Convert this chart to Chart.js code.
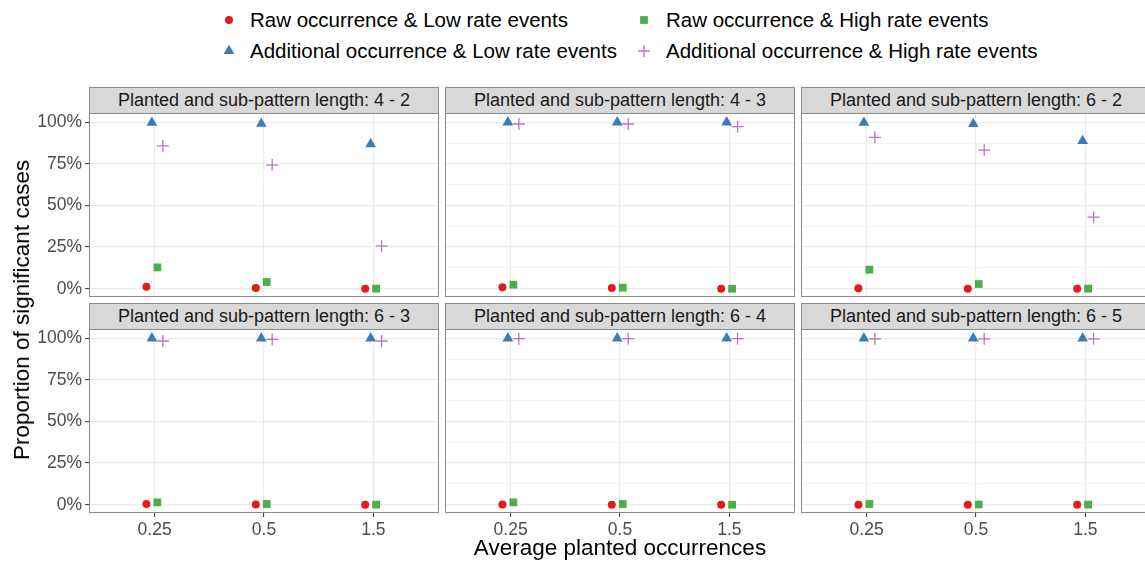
<!DOCTYPE html>
<html>
<head>
<meta charset="utf-8">
<script src="https://cdn.jsdelivr.net/npm/chart.js@4.4.0/dist/chart.umd.min.js"></script>
<style>
    body { margin: 0; background: #fff; font-family: "Liberation Sans", Arial, sans-serif; }
    #page { position: relative; width: 1145px; height: 561px; overflow: hidden; background: #fff; }
    .strip {
        position: absolute; box-sizing: border-box; width: 350px; height: 27px;
        background: #d9d9d9; border: 1px solid #8a8a8a; color: #1a1a1a;
        font-size: 18px; line-height: 25px; text-align: center; white-space: nowrap;
    }
    canvas.panel { position: absolute; }
    .legend-key { position: absolute; width: 20px; height: 20px; }
    .legend-text { position: absolute; font-size: 20.5px; line-height: 24px; color: #000; white-space: nowrap; }
    .axis-title { position: absolute; font-size: 22.5px; color: #000; white-space: nowrap; }
</style>
</head>
<body>
<div id="page"></div>
<script>
// --- Data ---
const panelTitles = [
    'Planted and sub-pattern length: 4 - 2',
    'Planted and sub-pattern length: 4 - 3',
    'Planted and sub-pattern length: 6 - 2',
    'Planted and sub-pattern length: 6 - 3',
    'Planted and sub-pattern length: 6 - 4',
    'Planted and sub-pattern length: 6 - 5'
];
const xLabels = ['0.25', '0.5', '1.5'];
const yTickValues = [0, 0.125, 0.25, 0.375, 0.5, 0.625, 0.75, 0.875, 1];
const seriesNames = [
    'Raw occurrence & Low rate events',
    'Additional occurrence & Low rate events',
    'Raw occurrence & High rate events',
    'Additional occurrence & High rate events'
];

// one row per panel, one value per x category
const rawLow = [
    [0.012, 0.004, 0.000],
    [0.008, 0.004, 0.000],
    [0.002, 0.000, 0.000],
    [0.004, 0.001, 0.000],
    [0.001, 0.000, 0.000],
    [0.000, 0.000, 0.000]
];
const additionalLow = [
    [0.998, 0.992, 0.869],
    [1.000, 1.000, 1.000],
    [0.998, 0.990, 0.888],
    [1.000, 1.000, 1.000],
    [1.000, 1.000, 1.000],
    [1.000, 1.000, 1.000]
];
const rawHigh = [
    [0.128, 0.040, 0.000],
    [0.024, 0.006, 0.000],
    [0.114, 0.028, 0.000],
    [0.014, 0.004, 0.000],
    [0.014, 0.004, 0.000],
    [0.004, 0.001, 0.000]
];
const additionalHigh = [
    [0.858, 0.743, 0.257],
    [0.990, 0.990, 0.974],
    [0.910, 0.833, 0.430],
    [0.984, 0.994, 0.984],
    [0.998, 0.998, 0.998],
    [0.997, 0.997, 0.997]
];

// --- Styles / layout ---
const seriesValues = [rawLow, additionalLow, rawHigh, additionalHigh];
const seriesStyles = [
    { pointStyle: 'circle', radius: 4, fill: '#E41A1C', stroke: '#E41A1C', width: 0 },
    { pointStyle: 'triangle', radius: 6.2, fill: '#377EB8', stroke: '#377EB8', width: 0 },
    { pointStyle: 'rect', radius: 5.5, fill: '#4DAF4A', stroke: '#4DAF4A', width: 0 },
    { pointStyle: 'cross', radius: 6, fill: 'rgba(0,0,0,0)', stroke: 'rgba(152,78,163,0.75)', width: 1.3 }
];
const FONT = '"Liberation Sans", Arial, sans-serif';
const panelLefts = [89, 445, 801];
const plotTops = [114, 330];
const stripTops = [87, 303];
const PANEL_W = 350;
const PANEL_H = 183;
const Y_AXIS_W = 89;
const X_AXIS_H = 40;

Chart.defaults.font.family = FONT;

const page = document.getElementById('page');

const panelBorder = {
    id: 'panelBorder',
    afterDraw(chart) {
        const { ctx, chartArea: a } = chart;
        ctx.save();
        ctx.strokeStyle = '#8a8a8a';
        ctx.lineWidth = 1;
        ctx.strokeRect(Math.round(a.left) + 0.5, Math.round(a.top) - 0.5,
            Math.round(a.right - a.left) - 1, Math.round(a.bottom - a.top));
        ctx.restore();
    }
};

function buildPanel(i) {
    const row = Math.floor(i / 3);
    const col = i % 3;
    const leftW = col === 0 ? Y_AXIS_W : 0;
    const bottomH = row === 1 ? X_AXIS_H : 0;

    const strip = document.createElement('div');
    strip.className = 'strip';
    strip.style.left = panelLefts[col] + 'px';
    strip.style.top = stripTops[row] + 'px';
    strip.textContent = panelTitles[i];
    page.appendChild(strip);

    const canvas = document.createElement('canvas');
    canvas.className = 'panel';
    canvas.width = PANEL_W + leftW;
    canvas.height = PANEL_H + bottomH;
    canvas.style.left = (panelLefts[col] - leftW) + 'px';
    canvas.style.top = plotTops[row] + 'px';
    canvas.style.width = canvas.width + 'px';
    canvas.style.height = canvas.height + 'px';
    page.appendChild(canvas);

    const datasets = seriesValues.map((values, k) => {
        const style = seriesStyles[k];
        const dodge = (k - 1.5) * 0.05;
        return {
            label: seriesNames[k],
            data: values[i].map((v, j) => ({ x: j + 1 + dodge, y: v })),
            pointStyle: style.pointStyle,
            pointRadius: style.radius,
            backgroundColor: style.fill,
            borderColor: style.stroke,
            borderWidth: style.width,
            showLine: false,
            clip: false
        };
    });

    new Chart(canvas.getContext('2d'), {
        type: 'scatter',
        data: { datasets },
        options: {
            responsive: false,
            animation: false,
            events: [],
            layout: { padding: 0, autoPadding: false },
            plugins: { legend: { display: false }, tooltip: { enabled: false } },
            scales: {
                x: {
                    type: 'linear',
                    min: 0.4,
                    max: 3.6,
                    afterBuildTicks: axis => { axis.ticks = xLabels.map((_, j) => ({ value: j + 1 })); },
                    afterFit: axis => { axis.height = bottomH; axis.paddingLeft = 0; axis.paddingRight = 0; },
                    ticks: {
                        display: row === 1,
                        autoSkip: false,
                        maxRotation: 0,
                        padding: 3,
                        color: '#4d4d4d',
                        font: { size: 17.5 },
                        callback: v => xLabels[Math.round(v) - 1]
                    },
                    grid: {
                        color: '#ebebeb',
                        lineWidth: 1.2,
                        drawTicks: row === 1,
                        tickLength: 4,
                        tickColor: '#333333',
                        tickWidth: 1
                    },
                    border: { display: false }
                },
                y: {
                    type: 'linear',
                    min: -0.05,
                    max: 1.05,
                    afterBuildTicks: axis => { axis.ticks = yTickValues.map(v => ({ value: v })); },
                    afterFit: axis => { axis.width = leftW; axis.paddingTop = 0; axis.paddingBottom = 0; },
                    ticks: {
                        display: col === 0,
                        padding: 3,
                        color: '#4d4d4d',
                        font: { size: 17.5 },
                        callback: (v, idx) => idx % 2 === 0 ? Math.round(v * 100) + '%' : ''
                    },
                    grid: {
                        color: ctx => ctx.index % 2 === 0 ? '#ebebeb' : '#f4f4f4',
                        lineWidth: ctx => ctx.index % 2 === 0 ? 1.2 : 1,
                        drawTicks: col === 0,
                        tickLength: 4,
                        tickColor: ctx => ctx.index % 2 === 0 ? '#333333' : 'rgba(0,0,0,0)',
                        tickWidth: 1
                    },
                    border: { display: false }
                }
            }
        },
        plugins: [panelBorder]
    });
}

function drawKey(ctx, style) {
    ctx.fillStyle = style.fill;
    ctx.strokeStyle = style.stroke;
    ctx.lineWidth = style.width;
    const r = style.radius;
    const cx = 10, cy = 10;
    ctx.beginPath();
    if (style.pointStyle === 'circle') {
        ctx.arc(cx, cy, r, 0, Math.PI * 2);
        ctx.fill();
    } else if (style.pointStyle === 'triangle') {
        ctx.moveTo(cx, cy - r);
        ctx.lineTo(cx + r * Math.sin(Math.PI * 2 / 3), cy + r / 2);
        ctx.lineTo(cx - r * Math.sin(Math.PI * 2 / 3), cy + r / 2);
        ctx.closePath();
        ctx.fill();
    } else if (style.pointStyle === 'rect') {
        const s = r * Math.SQRT1_2;
        ctx.rect(cx - s, cy - s, 2 * s, 2 * s);
        ctx.fill();
    } else {
        ctx.moveTo(cx - r, cy); ctx.lineTo(cx + r, cy);
        ctx.moveTo(cx, cy - r); ctx.lineTo(cx, cy + r);
        ctx.stroke();
    }
}

function buildLegend() {
    // 2 x 2 grid: [Raw&Low, Raw&High] / [Additional&Low, Additional&High]
    const order = [0, 2, 1, 3];
    const keyX = [229, 644];
    const textX = [250, 666];
    const rowY = [20, 51];
    order.forEach((k, pos) => {
        const r = Math.floor(pos / 2);
        const c = pos % 2;
        const key = document.createElement('canvas');
        key.className = 'legend-key';
        key.width = 20; key.height = 20;
        key.style.left = (keyX[c] - 10) + 'px';
        key.style.top = (rowY[r] - 10) + 'px';
        page.appendChild(key);
        drawKey(key.getContext('2d'), seriesStyles[k]);

        const text = document.createElement('div');
        text.className = 'legend-text';
        text.style.left = textX[c] + 'px';
        text.style.top = (rowY[r] - 12) + 'px';
        text.textContent = seriesNames[k];
        page.appendChild(text);
    });
}

function buildTitles() {
    const yTitle = document.createElement('div');
    yTitle.className = 'axis-title';
    yTitle.textContent = 'Proportion of significant cases';
    yTitle.style.left = '22px';
    yTitle.style.top = '310px';
    yTitle.style.transform = 'translate(-50%, -50%) rotate(-90deg)';
    page.appendChild(yTitle);

    const xTitle = document.createElement('div');
    xTitle.className = 'axis-title';
    xTitle.textContent = 'Average planted occurrences';
    xTitle.style.left = '620px';
    xTitle.style.top = '548px';
    xTitle.style.transform = 'translate(-50%, -50%)';
    page.appendChild(xTitle);
}

buildLegend();
panelTitles.forEach((_, i) => buildPanel(i));
buildTitles();
</script>
</body>
</html>
